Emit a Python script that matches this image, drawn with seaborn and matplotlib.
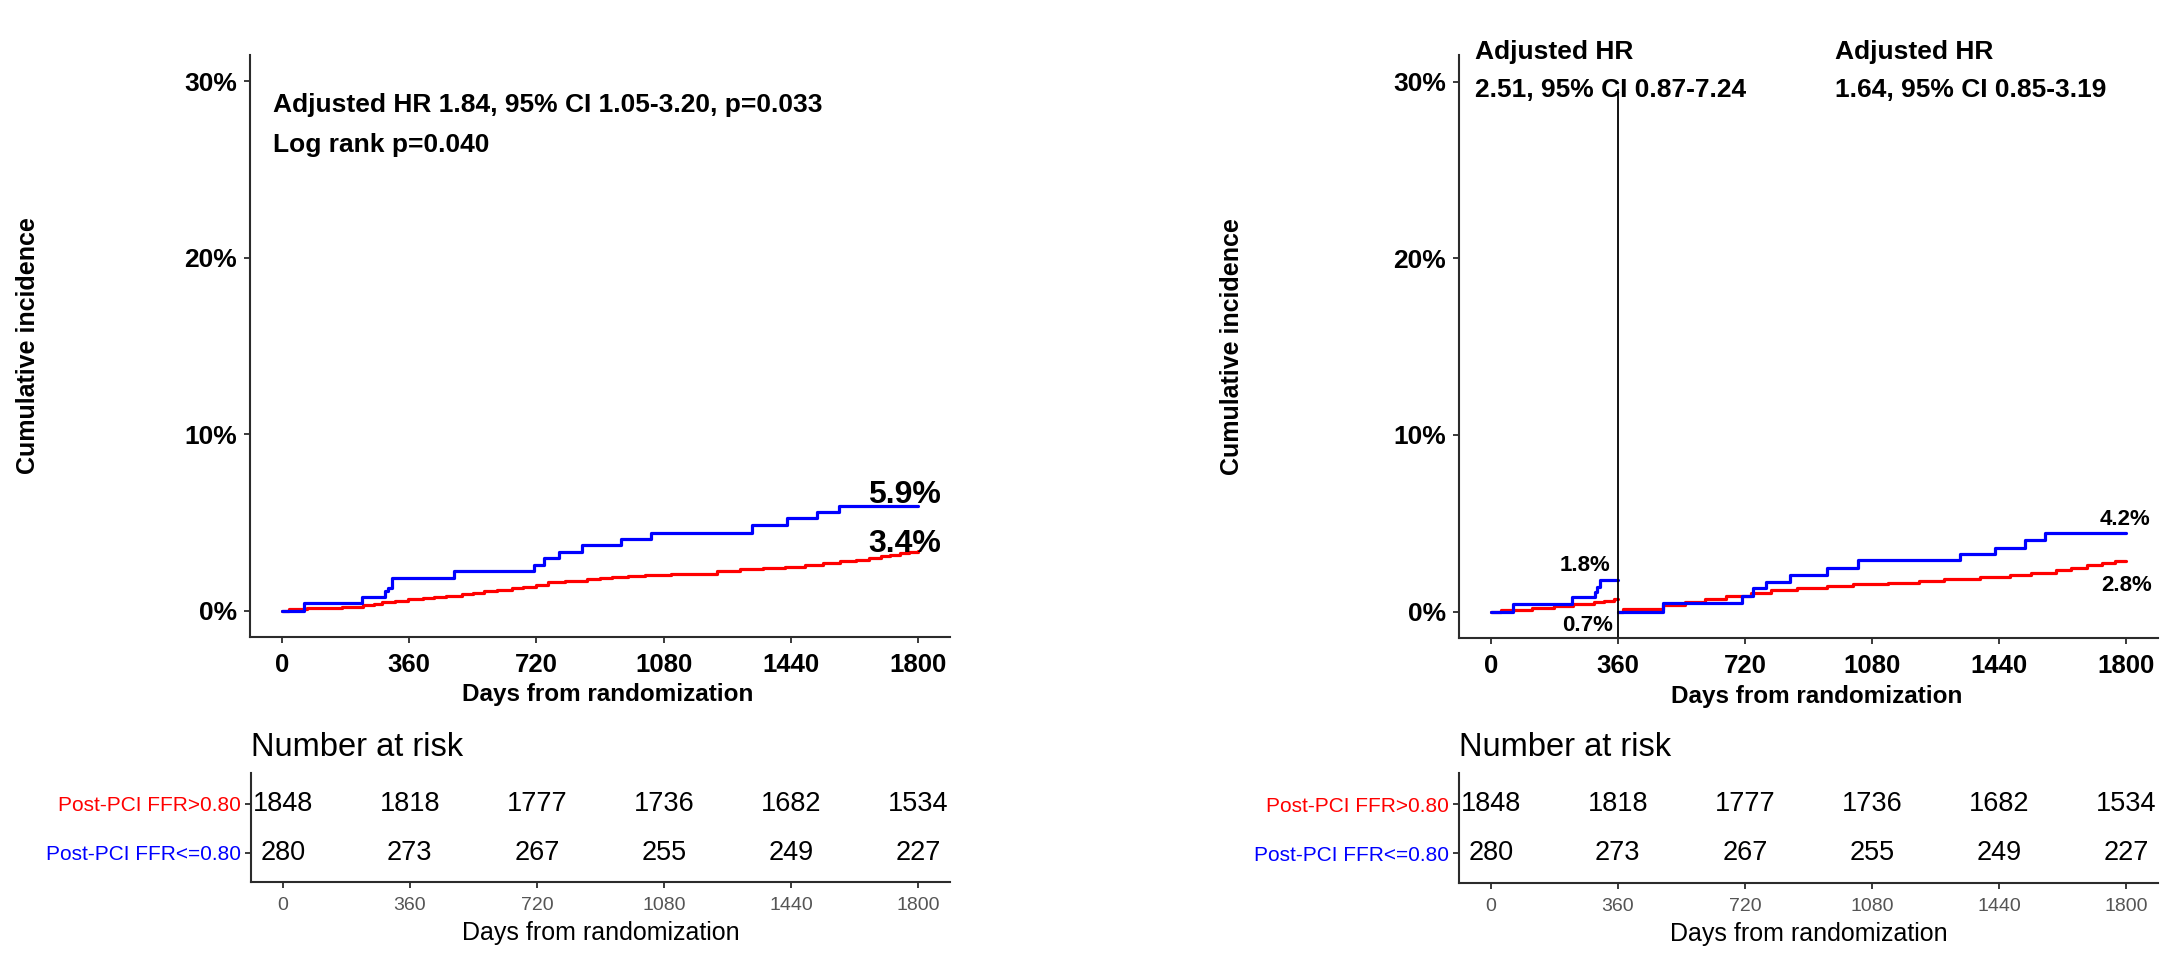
import numpy as np
import pandas as pd
import matplotlib
matplotlib.use("Agg")
import matplotlib.pyplot as plt
import seaborn as sns

sns.set_theme(style="white")
plt.rcParams["font.family"] = ["Liberation Sans", "DejaVu Sans"]
plt.rcParams["text.color"] = "black"
plt.rcParams["axes.labelcolor"] = "black"
plt.rcParams["xtick.color"] = "black"
plt.rcParams["ytick.color"] = "black"

# ---------------- data ----------------
groups = ["Post-PCI FFR>0.80", "Post-PCI FFR<=0.80"]
group_colors = {"Post-PCI FFR>0.80": "#FF0000", "Post-PCI FFR<=0.80": "#0000FF"}

# Left panel: overall cumulative incidence (%)
left_red_days = [0, 20, 70, 127, 170, 230, 260, 284, 320, 356, 400, 430, 465, 510, 540, 573,
                 610, 650, 682, 720, 754, 800, 863, 900, 935, 980, 1026, 1100, 1170, 1230,
                 1297, 1360, 1424, 1480, 1532, 1580, 1623, 1660, 1695, 1720, 1749, 1775, 1800]
left_red_cum = [0, 0.08, 0.12, 0.16, 0.22, 0.30, 0.38, 0.46, 0.56, 0.66, 0.72, 0.78, 0.84, 0.92,
                1.0, 1.09, 1.18, 1.27, 1.35, 1.45, 1.60, 1.68, 1.78, 1.84, 1.90, 1.96, 2.03, 2.07,
                2.10, 2.22, 2.34, 2.42, 2.49, 2.58, 2.70, 2.79, 2.88, 2.97, 3.08, 3.16, 3.26, 3.32, 3.38]
left_blue_days = [0, 62, 228, 293, 300, 312, 488, 714, 742, 784, 849, 959, 1044, 1330, 1430, 1514, 1575, 1800]
left_blue_cum = [0, 0.43, 0.78, 1.10, 1.29, 1.85, 2.23, 2.61, 2.99, 3.31, 3.69, 4.06, 4.37, 4.86, 5.22, 5.60, 5.92, 5.92]

# Right panel: landmark analysis at 360 days
landmark = 360
r1_red_days = [0, 30, 118, 180, 233, 291, 320, 348, 360]
r1_red_cum = [0, 0.10, 0.20, 0.30, 0.43, 0.53, 0.62, 0.70, 0.70]
r1_blue_days = [0, 63, 230, 294, 302, 310, 360]
r1_blue_cum = [0, 0.40, 0.81, 1.10, 1.38, 1.80, 1.80]
r2_red_days = [360, 375, 488, 550, 608, 665, 737, 795, 867, 953, 1025, 1126, 1212, 1284, 1385,
               1472, 1529, 1601, 1644, 1688, 1731, 1767, 1800]
r2_red_cum = [0.0, 0.15, 0.34, 0.53, 0.72, 0.87, 1.06, 1.19, 1.32, 1.44, 1.53, 1.61, 1.74, 1.85,
              1.95, 2.08, 2.19, 2.33, 2.48, 2.61, 2.74, 2.85, 2.88]
r2_blue_days = [360, 488, 711, 742, 780, 848, 953, 1040, 1328, 1428, 1512, 1570, 1800]
r2_blue_cum = [0, 0.50, 0.85, 1.34, 1.66, 2.04, 2.46, 2.89, 3.27, 3.61, 4.06, 4.44, 4.44]

# Number at risk
risk_days = [0, 360, 720, 1080, 1440, 1800]
risk_red = [1848, 1818, 1777, 1736, 1682, 1534]
risk_blue = [280, 273, 267, 255, 249, 227]

y_ticks = [0, 10, 20, 30]
y_ticklabels = ["0%", "10%", "20%", "30%"]

left_texts = ["Adjusted HR 1.84, 95% CI 1.05-3.20, p=0.033", "Log rank p=0.040"]
left_end_labels = ["5.9%", "3.4%"]
right_hr1 = ["Adjusted HR", "2.51, 95% CI 0.87-7.24"]
right_hr2 = ["Adjusted HR", "1.64, 95% CI 0.85-3.19"]
right_labels = ["1.8%", "0.7%", "4.2%", "2.8%"]


def make_df(parts):
    rows = []
    for seg, grp, days, cum in parts:
        for d, c in zip(days, cum):
            rows.append({"day": d, "cum": c, "group": grp, "seg": seg})
    return pd.DataFrame(rows)


df_left = make_df([
    ("a", groups[0], left_red_days, left_red_cum),
    ("b", groups[1], left_blue_days, left_blue_cum),
])
df_right = make_df([
    ("a", groups[0], r1_red_days, r1_red_cum),
    ("b", groups[0], r2_red_days, r2_red_cum),
    ("c", groups[1], r1_blue_days, r1_blue_cum),
    ("d", groups[1], r2_blue_days, r2_blue_cum),
])

# ---------------- layout ----------------
W, H = 2177, 957
fig = plt.figure(figsize=(W / 100, H / 100), dpi=100)


def box(x0, y0, x1, y1):
    return [x0 / W, 1 - y1 / H, (x1 - x0) / W, (y1 - y0) / H]


spine_c = "#2b2b2b"
XLIM = (-90, 1890)
YLIM = (-1.5, 31.5)


def style_main(ax, ylab_x):
    ax.set_xlim(*XLIM)
    ax.set_ylim(*YLIM)
    ax.set_xticks(risk_days)
    ax.set_xticklabels([str(d) for d in risk_days], fontsize=18.5, fontweight="bold")
    ax.set_yticks(y_ticks)
    ax.set_yticklabels(y_ticklabels, fontsize=19, fontweight="bold")
    for s in ["top", "right"]:
        ax.spines[s].set_visible(False)
    for s in ["left", "bottom"]:
        ax.spines[s].set_color(spine_c)
        ax.spines[s].set_linewidth(1.5)
    ax.tick_params(axis="both", direction="out", length=4.5, width=1.3, color=spine_c,
                   labelcolor="black", left=True, bottom=True)
    ax.tick_params(axis="x", pad=7)
    ax.tick_params(axis="y", pad=5)
    ax.set_xlabel("Days from randomization", fontsize=17.5, fontweight="bold", va="center")
    ax.xaxis.set_label_coords(0.511, (637 - 695) / 582)
    ax.set_ylabel("Cumulative incidence", fontsize=18, fontweight="bold", va="center")
    ax.yaxis.set_label_coords(ylab_x, 0.5)
    ax.grid(False)


def risk_table(ax):
    ax.set_xlim(*XLIM)
    ax.set_ylim(-0.6, 1.63)
    for d, r, b in zip(risk_days, risk_red, risk_blue):
        ax.text(d, 1, str(r), ha="center", va="center", fontsize=19.5, color="black")
        ax.text(d, 0, str(b), ha="center", va="center", fontsize=19.5, color="black")
    ax.set_yticks([1, 0])
    ax.set_yticklabels(groups, fontsize=15)
    for lab, g in zip(ax.get_yticklabels(), groups):
        lab.set_color(group_colors[g])
    ax.set_xticks(risk_days)
    ax.set_xticklabels([str(d) for d in risk_days], fontsize=14, color="#555555")
    for s in ["top", "right"]:
        ax.spines[s].set_visible(False)
    for s in ["left", "bottom"]:
        ax.spines[s].set_color(spine_c)
        ax.spines[s].set_linewidth(1.5)
    ax.tick_params(axis="both", direction="out", length=4.5, width=1.3, color=spine_c,
                   left=True, bottom=True)
    ax.tick_params(axis="x", pad=6)
    ax.tick_params(axis="y", pad=3)
    ax.set_xlabel("Days from randomization", fontsize=18, va="center")
    ax.xaxis.set_label_coords(0.5, (882 - 933) / 109)
    ax.set_title("Number at risk", loc="left", fontsize=23.5, pad=12)
    ax.grid(False)


# ----- left panel -----
axL = fig.add_axes(box(250, 55, 950, 637))
sns.lineplot(data=df_left, x="day", y="cum", hue="group", units="seg", estimator=None,
             hue_order=groups, palette=group_colors, drawstyle="steps-post",
             linewidth=2.3, legend=False, ax=axL)
style_main(axL, (28 - 250) / 700)
axL.text(-25, 28.25, left_texts[0], fontsize=19, fontweight="bold", ha="left", va="baseline")
axL.text(-25, 26.0, left_texts[1], fontsize=19, fontweight="bold", ha="left", va="baseline")
axL.text(1865, 6.1, left_end_labels[0], fontsize=23, fontweight="bold", ha="right", va="baseline")
axL.text(1865, 3.3, left_end_labels[1], fontsize=23, fontweight="bold", ha="right", va="baseline")

axLr = fig.add_axes(box(251, 773, 950, 882))
risk_table(axLr)

# ----- right panel -----
axR = fig.add_axes(box(1459, 55, 2158, 638))
sns.lineplot(data=df_right, x="day", y="cum", hue="group", units="seg", estimator=None,
             hue_order=groups, palette=group_colors, drawstyle="steps-post",
             linewidth=2.3, legend=False, ax=axR)
style_main(axR, (1232 - 1459) / 700)
axR.vlines(landmark, YLIM[0], 29.6, color="black", linewidth=1.3)
axR.text(-45, 31.27, right_hr1[0], fontsize=19, fontweight="bold", ha="left", va="baseline", clip_on=False)
axR.text(-45, 29.14, right_hr1[1], fontsize=19, fontweight="bold", ha="left", va="baseline", clip_on=False)
axR.text(975, 31.27, right_hr2[0], fontsize=19, fontweight="bold", ha="left", va="baseline", clip_on=False)
axR.text(975, 29.14, right_hr2[1], fontsize=19, fontweight="bold", ha="left", va="baseline", clip_on=False)
axR.text(339, 2.29, right_labels[0], fontsize=16, fontweight="bold", ha="right", va="baseline")
axR.text(345, -1.12, right_labels[1], fontsize=16, fontweight="bold", ha="right", va="baseline")
axR.text(1867, 4.88, right_labels[2], fontsize=16, fontweight="bold", ha="right", va="baseline")
axR.text(1873, 1.15, right_labels[3], fontsize=16, fontweight="bold", ha="right", va="baseline")

axRr = fig.add_axes(box(1459, 773, 2158, 883))
risk_table(axRr)

fig.savefig("out.png", dpi=100, facecolor="white")
